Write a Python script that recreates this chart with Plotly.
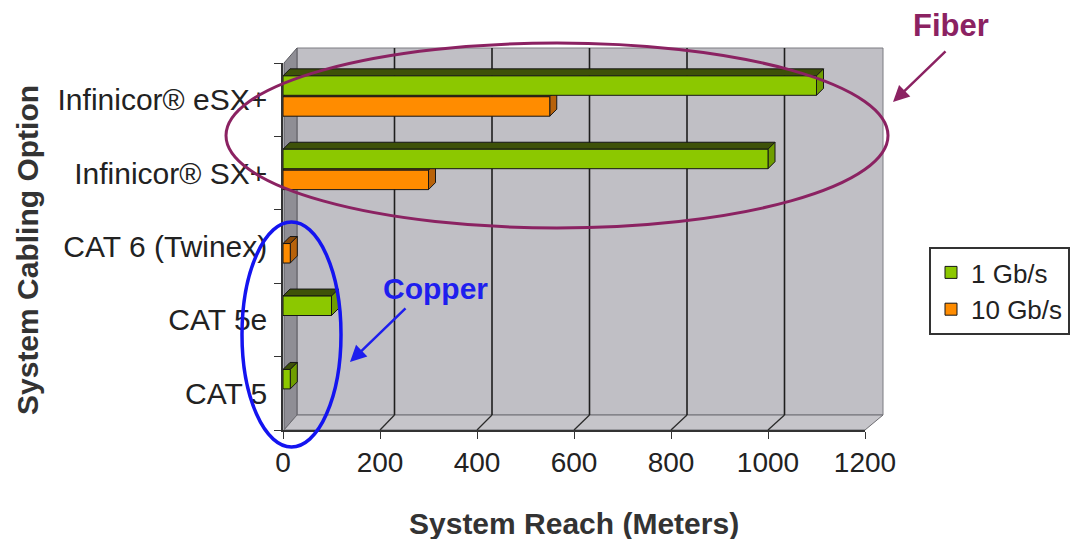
import plotly.graph_objects as go

# ---------------- data ----------------
categories = ["CAT 5", "CAT 5e", "CAT 6 (Twinex)", "Infinicor® SX+", "Infinicor® eSX+"]
reach_1g = [15, 100, None, 1000, 1100]
reach_10g = [None, None, 15, 300, 550]
series_names = ["1 Gb/s", "10 Gb/s"]
x_ticks = [0, 200, 400, 600, 800, 1000, 1200]
x_title = "System Reach (Meters)"
y_title = "System Cabling Option"

# ---------------- layout constants (reference pixels) ----------------
PAGE_PAD = 8                    # default body margin of the html page
W_FIG, H_FIG = 1090 - 2 * PAGE_PAD, 547 - 2 * PAGE_PAD
L, R, T, B = 283, 865, 63, 430
PW, PH = R - L, B - T
XMAX = 1200
FONT = "Liberation Sans, Arial, sans-serif"
TXT = "#222222"


def fx(px):
    return (px - L) / PW


def fy(py):
    return (B - py) / PH


WALL_DX, WALL_DY = 14, 15       # depth of the 3D box
BAR_W = 0.265                   # bar thickness (category units)
FACE = 7                        # bar depth in px
styles = [
    dict(color="#8CC800", top="#3E5208", side="#6F9E00", offset=0.06),
    dict(color="#FF8C00", top="#8A4A08", side="#B8620A", offset=-0.225),
]

shapes = []
# back wall
shapes.append(dict(type="rect", xref="paper", yref="paper", layer="below",
                   x0=fx(L + WALL_DX), x1=fx(R + 18), y0=fy(B - WALL_DY), y1=fy(T - WALL_DY),
                   fillcolor="#C0BFC5", line=dict(color="#7d7c82", width=1)))
# left side wall
shapes.append(dict(type="path", xref="paper", yref="paper", layer="below",
                   path=f"M{fx(L+1)},{fy(T)} L{fx(L+WALL_DX)},{fy(T-WALL_DY)} "
                        f"L{fx(L+WALL_DX)},{fy(B-WALL_DY)} L{fx(L+1)},{fy(B)} Z",
                   fillcolor="#8F8E95", line=dict(color="#5a5a60", width=1)))
# floor
shapes.append(dict(type="path", xref="paper", yref="paper", layer="below",
                   path=f"M{fx(L+1)},{fy(B)} L{fx(L+WALL_DX)},{fy(B-WALL_DY)} "
                        f"L{fx(R+18)},{fy(B-WALL_DY)} L{fx(R)},{fy(B)} Z",
                   fillcolor="#C6C5CA", line=dict(color="#6d6c72", width=1)))
# gridlines on back wall + floor
for v in x_ticks[1:-1]:
    off = WALL_DX + 3 * v / XMAX
    shapes.append(dict(type="line", xref="x", yref="paper", layer="below",
                       xsizemode="pixel", xanchor=v, x0=off, x1=off,
                       y0=fy(B - WALL_DY), y1=fy(T - WALL_DY),
                       line=dict(color="#1e1e1e", width=1.6)))
    shapes.append(dict(type="line", xref="x", yref="paper", layer="below",
                       xsizemode="pixel", xanchor=v, x0=off, x1=0,
                       y0=fy(B - WALL_DY), y1=fy(B),
                       line=dict(color="#2a2a2a", width=1.3)))

# 3D faces of the bars (derived from the data)
d = FACE * XMAX / PW
h = BAR_W * PH / len(categories)
for vals, st in zip([reach_1g, reach_10g], styles):
    for i, v in enumerate(vals):
        if v is None:
            continue
        ytop = i + st["offset"] + BAR_W
        shapes.append(dict(type="path", xref="x", yref="y", layer="below",
                           ysizemode="pixel", yanchor=ytop,
                           path=f"M0,0 L{v},0 L{v+d},{FACE} L{d},{FACE} Z",
                           fillcolor=st["top"], line=dict(color="#161616", width=1)))
        shapes.append(dict(type="path", xref="x", yref="y", layer="below",
                           ysizemode="pixel", yanchor=ytop,
                           path=f"M{v},0 L{v+d},{FACE} L{v+d},{FACE-h} L{v},{-h} Z",
                           fillcolor=st["side"], line=dict(color="#161616", width=1)))

# highlight ellipses
shapes.append(dict(type="circle", xref="paper", yref="paper", layer="above",
                   x0=fx(226), x1=fx(888), y0=fy(228), y1=fy(43),
                   line=dict(color="#8B2262", width=3)))
shapes.append(dict(type="circle", xref="paper", yref="paper", layer="above",
                   x0=fx(242), x1=fx(341), y0=fy(447), y1=fy(222),
                   line=dict(color="#1414F0", width=3.5)))

fig = go.Figure()
for k, (vals, name, st) in enumerate(zip([reach_1g, reach_10g], series_names, styles)):
    fig.add_trace(go.Bar(
        y=categories, x=vals, orientation="h", name=name, legendgroup=f"g{k}",
        width=BAR_W, offset=st["offset"],
        marker=dict(color=st["color"], line=dict(color="#161616", width=1)),
    ))

ctr = dict(xanchor="center", yanchor="middle")
annotations = [
    dict(xref="paper", yref="paper", x=fx(574), y=fy(523), text=x_title, showarrow=False,
         font=dict(family=FONT, size=30, color="#333333", weight="bold"), **ctr),
    dict(xref="paper", yref="paper", x=fx(27), y=fy(250), text=y_title, showarrow=False,
         textangle=-90, font=dict(family=FONT, size=30, color="#333333", weight="bold"), **ctr),
    dict(xref="paper", yref="paper", x=fx(951), y=fy(25), text="Fiber", showarrow=False,
         font=dict(family=FONT, size=31, color="#8B2262", weight="bold"), **ctr),
    dict(xref="paper", yref="paper", x=fx(893), y=fy(102), text="", showarrow=True,
         axref="pixel", ayref="pixel", ax=54, ay=-52,
         arrowhead=2, arrowsize=1.3, arrowwidth=2.5, arrowcolor="#8B2262"),
    dict(xref="paper", yref="paper", x=fx(435), y=fy(288), text="Copper", showarrow=False,
         font=dict(family=FONT, size=30, color="#1E1EEE", weight="bold"), **ctr),
    dict(xref="paper", yref="paper", x=fx(350), y=fy(362), text="", showarrow=True,
         axref="pixel", ayref="pixel", ax=57, ay=-55,
         arrowhead=2, arrowsize=1.3, arrowwidth=2.5, arrowcolor="#1E1EEE"),
]

fig.update_layout(
    width=W_FIG, height=H_FIG, autosize=False,
    margin=dict(l=L - PAGE_PAD, r=W_FIG - (R - PAGE_PAD), t=T - PAGE_PAD,
                b=H_FIG - (B - PAGE_PAD), pad=0),
    paper_bgcolor="white", plot_bgcolor="rgba(0,0,0,0)",
    barmode="overlay",
    font=dict(family=FONT, color=TXT, size=30),
    xaxis=dict(range=[0, XMAX], tickvals=x_ticks, ticks="outside", ticklen=7,
               tickcolor="#333", showline=True, linecolor="#333", linewidth=1.5,
               showgrid=False, zeroline=False, fixedrange=True, automargin=False,
               tickfont=dict(family=FONT, size=28, color=TXT)),
    yaxis=dict(type="category", categoryorder="array", categoryarray=categories,
               range=[-0.5, len(categories) - 0.5], tickson="boundaries",
               ticks="outside", ticklen=7, tickcolor="#333", showline=True,
               linecolor="#333", linewidth=1.5, showgrid=False, zeroline=False,
               ticklabelstandoff=8, automargin=False,
               fixedrange=True, tickfont=dict(family=FONT, size=30, color=TXT)),
    legend=dict(x=fx(929), y=fy(247), xanchor="left", yanchor="top",
                bgcolor="white", bordercolor="#333", borderwidth=2,
                font=dict(family=FONT, size=26, color=TXT), traceorder="normal",
                tracegroupgap=14),
    shapes=shapes,
    annotations=annotations,
    showlegend=True,
)

fig.write_html("out.html")
